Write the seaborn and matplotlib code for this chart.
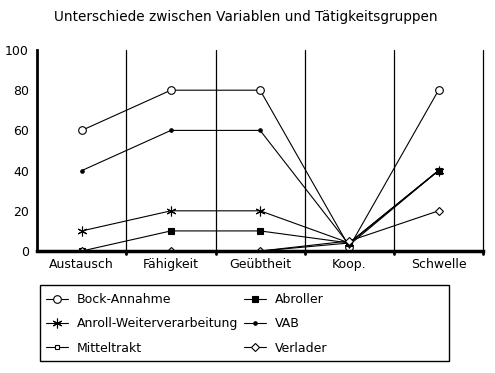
import pandas as pd
import seaborn as sns
import matplotlib.pyplot as plt
from matplotlib.patches import Rectangle

categories = ['Austausch', 'Fähigkeit', 'Geübtheit', 'Koop.', 'Schwelle']
bock = [60, 80, 80, 2, 80]
anroll = [10, 20, 20, 4, 40]
mitteltrakt = [0, 0, 0, 4, 40]
abroller = [0, 10, 10, 4, 40]
vab = [40, 60, 60, 3, 40]
verlader = [0, 0, 0, 5, 20]

series = {
    'Bock-Annahme': bock,
    'Anroll-Weiterverarbeitung': anroll,
    'Mitteltrakt': mitteltrakt,
    'Abroller': abroller,
    'VAB': vab,
    'Verlader': verlader,
}

rows = []
for name, vals in series.items():
    for i, v in enumerate(vals):
        rows.append({'Gruppe': name, 'pos': i, 'Wert': v})
df = pd.DataFrame(rows)

sns.set_style('white')
plt.rcParams['font.family'] = ['DejaVu Sans']
plt.rcParams['text.color'] = 'black'
plt.rcParams['xtick.color'] = 'black'
plt.rcParams['ytick.color'] = 'black'

markers = {
    'Bock-Annahme': dict(marker='o', ms=5.5, mfc='white'),
    'Anroll-Weiterverarbeitung': dict(marker=(6, 2, 0), ms=7, mfc='black'),
    'Mitteltrakt': dict(marker='s', ms=3.5, mfc='white'),
    'Abroller': dict(marker='s', ms=4, mfc='black'),
    'VAB': dict(marker='o', ms=2.5, mfc='black'),
    'Verlader': dict(marker='D', ms=4, mfc='white'),
}

fig = plt.figure(figsize=(4.95, 3.73), dpi=100)
ax = fig.add_axes([0.075, 0.327, 0.901, 0.539])

for name in series:
    sub = df[df['Gruppe'] == name]
    m = markers[name]
    sns.lineplot(data=sub, x='pos', y='Wert', ax=ax, color='black', lw=0.8,
                 marker=m['marker'], markersize=m['ms'], markerfacecolor=m['mfc'],
                 markeredgecolor='black', markeredgewidth=0.8, label=name)

ax.set_xlim(-0.5, 4.5)
ax.set_ylim(0, 100)
ax.set_xticks(range(len(categories)))
ax.set_xticklabels(categories, fontsize=9)
ax.set_yticks(range(0, 101, 20))
ax.tick_params(axis='y', labelsize=9, length=0, pad=6)
ax.tick_params(axis='x', length=0, pad=5)
ax.set_xlabel('')
ax.set_ylabel('')

for b in [0.5, 1.5, 2.5, 3.5, 4.5]:
    ax.plot([b, b], [0, 100], color='black', lw=0.9, zorder=0, clip_on=False)
    ax.plot([b, b], [0, -1.5], color='black', lw=2, clip_on=False)

for side in ['top', 'right']:
    ax.spines[side].set_visible(False)
ax.spines['left'].set_linewidth(2)
ax.spines['bottom'].set_linewidth(2.5)
ax.spines['left'].set_color('black')
ax.spines['bottom'].set_color('black')

fig.text(0.496, 0.955, 'Unterschiede zwischen Variablen und Tätigkeitsgruppen',
         fontsize=9.8, ha='center', va='center')

handles, labels = ax.get_legend_handles_labels()
leg = ax.legend(handles, labels, ncol=2, loc='upper left',
                bbox_to_anchor=(0.0707, 0.244), bbox_transform=fig.transFigure,
                frameon=False, fontsize=9, handlelength=1.75,
                columnspacing=0.5, labelspacing=0.9, borderpad=0.4,
                handletextpad=0.7)

fig.patches.append(Rectangle((0.0808, 0.0322), 0.826, 0.204, transform=fig.transFigure,
                             fill=False, edgecolor='black', lw=1))

plt.savefig('out.png', dpi=100)
plt.close()
